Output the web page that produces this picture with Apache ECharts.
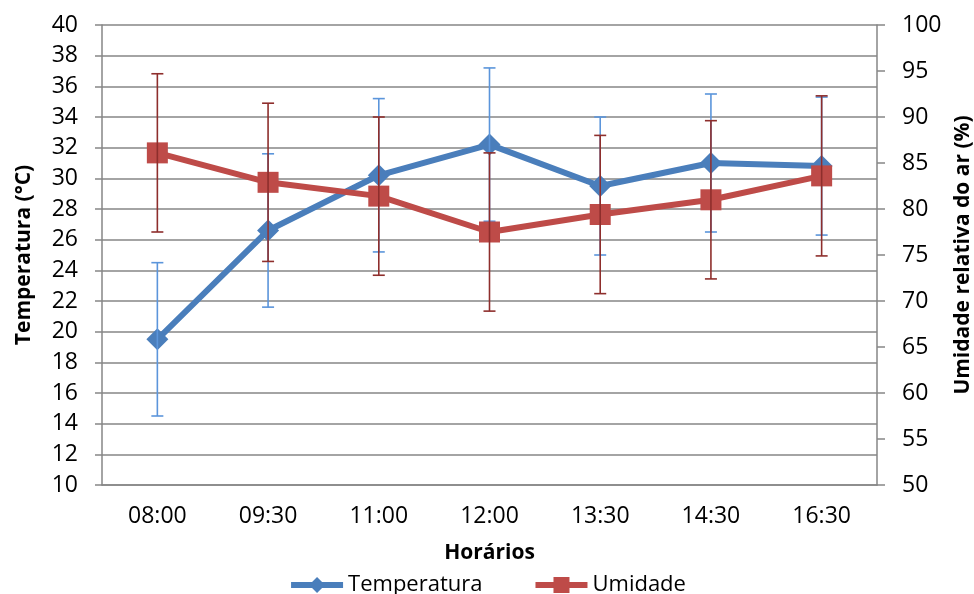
<!DOCTYPE html>
<html style="height: 100%">

<head>
    <meta charset="utf-8">
    <script type="text/javascript" src="https://cdn.jsdelivr.net/npm/echarts@6/dist/echarts.min.js"></script>
</head>

<body style="height: 100%; margin: 0; background: #fff">
    <div id="chart" style="height: 594px;width: 974px;"></div>

    <script type="text/javascript">
        // dados
        var horarios = ['08:00', '09:30', '11:00', '12:00', '13:30', '14:30', '16:30'];
        var temperatura = [19.5, 26.6, 30.2, 32.2, 29.5, 31.0, 30.8];
        var temperaturaDP = [5.0, 5.0, 5.0, 5.0, 4.5, 4.5, 4.5];
        var umidade = [86.1, 82.9, 81.4, 77.5, 79.4, 81.0, 83.6];
        var umidadeDP = [8.6, 8.6, 8.6, 8.6, 8.6, 8.6, 8.7];

        var fonte = '"Open Sans", "Noto Sans", sans-serif';

        function barras(medias, dps) {
            return medias.map(function (m, i) {
                return [i, m - dps[i], m + dps[i]];
            });
        }

        // barra de erro com traço nas pontas
        function desenhaErro(cor) {
            return function (params, api) {
                var i = api.value(0);
                var baixo = api.coord([i, api.value(1)]);
                var alto = api.coord([i, api.value(2)]);
                var w = 6;
                var estilo = { stroke: cor, lineWidth: 1.6 };
                return {
                    type: 'group',
                    children: [
                        { type: 'line', shape: { x1: alto[0], y1: alto[1], x2: baixo[0], y2: baixo[1] }, style: estilo },
                        { type: 'line', shape: { x1: alto[0] - w, y1: alto[1], x2: alto[0] + w, y2: alto[1] }, style: estilo },
                        { type: 'line', shape: { x1: baixo[0] - w, y1: baixo[1], x2: baixo[0] + w, y2: baixo[1] }, style: estilo }
                    ]
                };
            };
        }

        var chart = echarts.init(document.getElementById('chart'));

        var option = {
            animation: false,
            textStyle: { fontFamily: fonte },
            grid: { left: 102, right: 97, top: 25, bottom: 109, outerBoundsMode: 'none' },
            legend: {
                data: ['Temperatura', 'Umidade'],
                top: 569,
                left: 'center',
                itemWidth: 52,
                itemHeight: 20,
                itemGap: 50,
                lineStyle: { width: 6 },
                textStyle: { fontSize: 22, color: '#000', fontFamily: fonte }
            },
            xAxis: {
                type: 'category',
                data: horarios,
                name: 'Horários',
                nameLocation: 'middle',
                nameGap: 58,
                nameTextStyle: { fontSize: 21, fontWeight: 'bold', color: '#000', fontFamily: fonte },
                axisLine: { lineStyle: { color: '#868686', width: 1.5 } },
                axisTick: { length: 7, lineStyle: { color: '#868686', width: 1.5 } },
                axisLabel: { fontSize: 23, color: '#000', margin: 20 }
            },
            yAxis: [
                {
                    type: 'value',
                    min: 10,
                    max: 40,
                    interval: 2,
                    name: 'Temperatura (°C)',
                    nameLocation: 'middle',
                    nameRotate: 90,
                    nameGap: 67,
                    nameTextStyle: { fontSize: 21, fontWeight: 'bold', color: '#000', fontFamily: fonte },
                    axisLine: { show: true, lineStyle: { color: '#868686', width: 1.5 } },
                    axisTick: { show: true, length: 7, lineStyle: { color: '#868686', width: 1.5 } },
                    axisLabel: { fontSize: 23, color: '#000', margin: 24 },
                    splitLine: { lineStyle: { color: '#868686', width: 1.5 } }
                },
                {
                    type: 'value',
                    min: 50,
                    max: 100,
                    interval: 5,
                    position: 'right',
                    name: 'Umidade relativa do ar (%)',
                    nameLocation: 'middle',
                    nameRotate: 90,
                    nameGap: 75,
                    nameTextStyle: { fontSize: 21, fontWeight: 'bold', color: '#000', fontFamily: fonte },
                    axisLine: { show: true, lineStyle: { color: '#868686', width: 1.5 } },
                    axisTick: { show: true, length: 8, lineStyle: { color: '#868686', width: 1.5 } },
                    axisLabel: { fontSize: 23, color: '#000', margin: 25 },
                    splitLine: { show: false }
                }
            ],
            series: [
                {
                    name: 'Temperatura',
                    type: 'line',
                    yAxisIndex: 0,
                    data: temperatura,
                    symbol: 'diamond',
                    symbolSize: 22,
                    color: '#4A7EBB',
                    lineStyle: { width: 6, color: '#4A7EBB' },
                    itemStyle: { color: '#4A7EBB' },
                    z: 3
                },
                {
                    name: 'erroTemperatura',
                    type: 'custom',
                    yAxisIndex: 0,
                    data: barras(temperatura, temperaturaDP),
                    renderItem: desenhaErro('#5B95DB'),
                    encode: { x: 0, y: [1, 2] },
                    silent: true,
                    z: 4
                },
                {
                    name: 'Umidade',
                    type: 'line',
                    yAxisIndex: 1,
                    data: umidade,
                    symbol: 'rect',
                    symbolSize: 21,
                    color: '#BE4B48',
                    lineStyle: { width: 6, color: '#BE4B48' },
                    itemStyle: { color: '#BE4B48' },
                    z: 5
                },
                {
                    name: 'erroUmidade',
                    type: 'custom',
                    yAxisIndex: 1,
                    data: barras(umidade, umidadeDP),
                    renderItem: desenhaErro('#8E2E2C'),
                    encode: { x: 0, y: [1, 2] },
                    silent: true,
                    z: 6
                }
            ]
        };

        chart.setOption(option);
    </script>
</body>

</html>
